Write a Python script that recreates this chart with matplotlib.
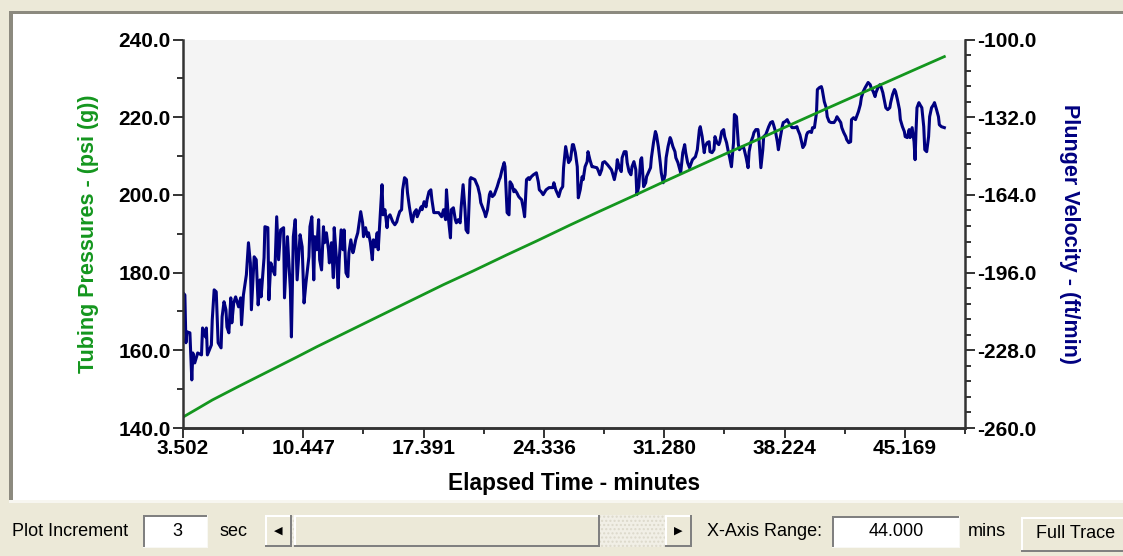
import matplotlib
matplotlib.use("Agg")
import matplotlib.pyplot as plt
from matplotlib.patches import Rectangle
from matplotlib.ticker import MultipleLocator, FormatStrFormatter
import numpy as np

plt.rcParams['font.family'] = ['Liberation Sans', 'DejaVu Sans']

# --- data ---
x_tick_labels = ['3.502', '10.447', '17.391', '24.336', '31.280', '38.224', '45.169']
x_start = 3.502
x_range = 44.0

# tubing pressure (psi g), left axis
pressure_t = [3.50, 4.35, 5.19, 6.71, 8.40, 10.09, 11.22, 12.91, 14.60, 16.57,
              18.54, 20.24, 22.21, 23.90, 25.87, 27.56, 29.53, 31.22, 33.19, 34.88,
              36.86, 38.54, 40.24, 42.21, 43.90, 45.87, 47.45]
pressure_v = [142.8, 145.0, 147.2, 150.7, 154.5, 158.3, 160.9, 164.6, 168.3, 172.6,
              176.9, 180.4, 184.6, 188.1, 192.3, 195.8, 199.8, 203.3, 207.3, 210.7,
              214.6, 218.0, 221.4, 225.3, 228.6, 232.5, 235.6]

# plunger velocity (ft/min), right axis
velocity_t = [
    3.50, 3.61, 3.67, 3.73, 3.90, 4.01, 4.07, 4.18, 4.35, 4.57,
    4.63, 4.80, 4.85, 4.91, 5.14, 5.19, 5.30, 5.42, 5.53, 5.70,
    5.76, 5.87, 5.98, 6.04, 6.15, 6.26, 6.32, 6.43, 6.54, 6.71,
    6.83, 6.88, 6.99, 7.16, 7.28, 7.39, 7.45, 7.61, 7.73, 7.84,
    7.95, 8.01, 8.18, 8.23, 8.40, 8.46, 8.57, 8.69, 8.80, 8.91,
    9.02, 9.14, 9.31, 9.36, 9.53, 9.70, 9.76, 9.87, 9.98, 10.09,
    10.26, 10.38, 10.49, 10.60, 10.77, 10.83,
    10.94, 11.05, 11.11, 11.22, 11.33, 11.39, 11.50, 11.61, 11.67, 11.78,
    11.90, 11.95, 12.07, 12.18, 12.23, 12.35, 12.46, 12.52, 12.63, 12.74,
    12.80, 12.91, 13.02, 13.08, 13.19, 13.31, 13.36, 13.47, 13.59, 13.64,
    13.76, 13.87, 13.92, 14.04, 14.15, 14.21, 14.32, 14.43, 14.49, 14.60,
    14.71, 14.77, 14.88, 14.99, 15.05, 15.16, 15.28, 15.33, 15.45, 15.56,
    15.61, 15.73, 15.84, 15.90, 16.01, 16.12, 16.18, 16.29, 16.40, 16.46,
    16.57, 16.69, 16.74, 16.85, 16.97, 17.02, 17.14, 17.25, 17.30, 17.42,
    17.53, 17.59, 17.70, 17.81, 17.87, 17.98, 18.09, 18.15,
    18.26, 18.43, 18.54, 18.66, 18.71, 18.83, 18.94, 18.99, 19.11, 19.22,
    19.28, 19.39, 19.50, 19.56, 19.67, 19.78, 19.84, 19.95, 20.07, 20.12,
    20.35, 20.40, 20.52, 20.63, 20.69, 20.91, 20.97, 21.08, 21.19, 21.25,
    21.36, 21.47, 21.64, 21.76, 21.81, 21.92, 22.04, 22.09, 22.21, 22.32,
    22.38, 22.49, 22.60, 22.66, 22.77, 22.88, 22.94, 23.05, 23.16, 23.22,
    23.33, 23.45, 23.50, 23.61, 23.73, 23.90, 24.01, 24.07, 24.18, 24.29,
    24.46, 24.63, 24.85, 24.91, 25.02, 25.19, 25.30, 25.42, 25.47, 25.59,
    25.70, 25.76,
    25.87, 25.98, 26.04, 26.15, 26.26, 26.32, 26.43, 26.54, 26.60, 26.71,
    26.83, 26.88, 26.99, 27.11, 27.16, 27.39, 27.45, 27.56, 27.67, 27.73,
    27.84, 28.01, 28.23, 28.29, 28.40, 28.52, 28.57, 28.69, 28.80, 28.85,
    28.97, 29.08, 29.14, 29.25, 29.36, 29.42, 29.53, 29.64, 29.70, 29.81,
    29.92, 29.98, 30.09, 30.21, 30.26, 30.49, 30.54, 30.66, 30.77, 30.83,
    30.94, 31.05, 31.11, 31.22, 31.33, 31.39, 31.50, 31.62, 31.67, 31.78,
    31.90, 31.95, 32.07, 32.18, 32.23, 32.35, 32.46, 32.52, 32.63, 32.74,
    32.80,
    32.91, 33.02, 33.08, 33.19, 33.31, 33.36, 33.47, 33.59, 33.64, 33.76,
    33.87, 33.92, 34.04, 34.15, 34.21, 34.32, 34.43, 34.49, 34.60, 34.71,
    34.77, 34.88, 34.99, 35.05, 35.16, 35.28, 35.33, 35.45, 35.56, 35.62,
    35.73, 35.84, 35.90, 36.01, 36.12, 36.18, 36.29, 36.40, 36.46, 36.57,
    36.69, 36.74, 36.86, 36.97, 37.02, 37.14, 37.25, 37.31, 37.42, 37.53,
    37.59, 37.70, 37.81, 37.87, 37.98, 38.09, 38.15, 38.26, 38.38, 38.43,
    38.54, 38.66, 38.83, 38.94, 38.99, 39.11, 39.22, 39.28, 39.39, 39.50,
    39.56, 39.67, 39.78, 39.84, 39.95, 40.07, 40.12,
    40.24, 40.35, 40.40, 40.52, 40.63, 40.69, 40.80, 40.91, 41.08, 41.19,
    41.25, 41.36, 41.47, 41.53, 41.64, 41.76, 41.81, 41.93, 42.04, 42.09,
    42.21, 42.32, 42.38, 42.49, 42.60, 42.66, 42.77, 42.88, 43.05, 43.17,
    43.22, 43.34, 43.45, 43.50, 43.62, 43.73, 43.79, 43.90, 44.01, 44.07,
    44.18, 44.30, 44.35, 44.46, 44.57, 44.63, 44.74, 44.86, 44.91, 45.03,
    45.14, 45.19, 45.31, 45.42, 45.47, 45.59, 45.70, 45.76, 45.81, 45.87,
    45.98, 46.04, 46.15, 46.26, 46.32, 46.43, 46.54, 46.60, 46.71, 46.83,
    46.88, 47.00, 47.11, 47.16, 47.28, 47.45,
]
velocity_v = [
    -204.3, -205.2, -224.9, -220.4, -220.8, -240.2, -229.1, -233.2, -229.1, -229.9,
    -218.8, -222.5, -218.8, -229.9, -225.8, -215.5, -203.1, -203.9, -224.9, -227.0,
    -214.2, -208.0, -211.3, -218.4, -220.8, -206.4, -216.7, -208.5, -206.0, -210.1,
    -206.4, -217.5, -205.2, -196.9, -183.7, -192.0, -211.3, -189.5, -190.7, -209.3,
    -199.0, -206.0, -189.9, -177.1, -177.5, -207.2, -192.0, -194.9, -196.9, -173.0,
    -190.7, -178.4, -177.5, -206.4, -181.2, -203.1, -222.5, -181.2, -174.2, -199.0,
    -180.4, -185.4, -208.5, -200.2, -189.5, -177.1,
    -173.0, -199.0, -181.2, -186.6, -174.2, -190.7, -194.9, -177.1, -183.7, -179.6,
    -186.6, -192.0, -183.7, -198.1, -177.5, -189.5, -202.3, -190.7, -178.4, -186.6,
    -178.4, -196.1, -197.7, -187.8, -182.5, -187.8, -186.6, -182.5, -179.6, -177.1,
    -170.9, -175.5, -181.2, -177.5, -181.2, -179.6, -183.7, -190.7, -182.5, -185.4,
    -179.6, -186.6, -173.0, -159.8, -172.2, -170.1, -177.5, -173.4, -172.2, -174.2,
    -175.1, -176.3, -175.1, -173.4, -170.9, -170.1, -161.9, -156.9, -157.7, -163.1,
    -168.9, -174.2, -175.1, -171.3, -170.1, -173.0, -170.9, -168.9, -170.1, -166.8,
    -168.9, -166.0, -162.7, -161.9, -166.0, -171.3, -171.3, -171.3,
    -171.3, -173.0, -170.1, -174.2, -161.9, -174.2, -181.7, -170.1, -169.3, -174.2,
    -175.5, -174.2, -175.5, -168.9, -159.8, -170.1, -178.4, -179.6, -157.7, -156.9,
    -157.7, -158.6, -160.6, -163.9, -167.2, -171.3, -173.0, -170.1, -163.9, -162.7,
    -164.7, -163.9, -160.6, -157.7, -156.9, -153.6, -150.7, -152.4, -171.3, -172.2,
    -158.6, -159.8, -162.7, -161.9, -163.1, -164.7, -165.2, -166.0, -170.1, -173.0,
    -157.7, -156.9, -157.7, -156.5, -155.7, -154.9, -158.6, -161.9, -162.7, -163.9,
    -161.9, -161.0, -161.0, -159.0, -161.9, -164.7, -161.9, -160.6, -152.8, -144.1,
    -148.3, -150.7,
    -149.5, -143.3, -143.3, -146.6, -152.4, -165.2, -161.9, -156.5, -157.7, -152.4,
    -150.3, -146.2, -149.5, -152.4, -152.4, -152.8, -153.6, -155.7, -153.6, -150.7,
    -150.3, -151.6, -153.6, -154.9, -157.7, -153.6, -149.5, -152.8, -154.4, -148.7,
    -146.2, -146.2, -150.7, -154.4, -155.7, -152.4, -150.3, -153.6, -163.9, -160.6,
    -149.5, -148.7, -160.6, -159.0, -156.5, -152.8, -148.7, -142.5, -137.9, -139.2,
    -144.1, -150.7, -154.9, -159.0, -155.7, -148.7, -144.1, -140.4, -141.2, -144.1,
    -146.2, -148.7, -150.7, -153.6, -154.9, -146.6, -143.3, -146.6, -150.7, -152.8,
    -151.6,
    -149.5, -148.7, -148.3, -145.4, -137.1, -135.9, -140.0, -146.6, -144.1, -142.5,
    -142.1, -146.2, -146.6, -145.4, -140.0, -142.5, -143.3, -142.1, -137.9, -137.1,
    -140.0, -142.5, -146.6, -148.3, -152.4, -142.5, -130.9, -131.8, -143.3, -145.4,
    -144.5, -144.1, -145.4, -148.7, -152.8, -146.2, -142.1, -140.0, -138.3, -137.1,
    -137.1, -140.0, -152.8, -145.4, -140.0, -139.2, -137.1, -135.9, -134.2, -133.8,
    -135.1, -137.9, -142.1, -145.4, -140.4, -135.9, -134.2, -133.8, -133.0, -133.8,
    -135.1, -136.3, -136.3, -135.9, -137.1, -139.2, -142.5, -144.5, -143.3, -139.2,
    -138.3, -137.9, -138.3, -136.3, -136.3, -130.1, -120.6,
    -119.8, -119.4, -120.6, -125.6, -128.1, -131.8, -133.8, -134.2, -134.2, -133.0,
    -131.8, -133.0, -134.2, -136.3, -138.3, -140.0, -141.2, -142.5, -142.1, -133.0,
    -132.2, -133.0, -131.8, -129.7, -126.8, -123.9, -121.4, -119.8, -117.7, -118.6,
    -119.8, -121.4, -123.5, -121.9, -119.8, -118.6, -119.4, -121.9, -126.0, -128.1,
    -128.9, -128.1, -126.0, -122.7, -120.6, -121.4, -124.7, -128.9, -133.0, -135.9,
    -137.9, -140.0, -140.4, -137.1, -140.4, -136.3, -142.1, -149.5, -138.4, -128.1,
    -126.0, -126.8, -128.1, -135.9, -145.4, -146.2, -140.0, -131.8, -128.1, -126.8,
    -126.0, -128.9, -131.8, -135.1, -135.9, -136.3,
]

# --- figure geometry (pixels of the 1123 x 556 screenshot) ---
W, H = 1123, 556
BEIGE = '#ece9d8'
AX_COL = '#333333'
GREEN = '#14961e'
NAVY = '#000080'

fig = plt.figure(figsize=(W / 100, H / 100), dpi=100, facecolor=BEIGE)


def px_rect(x0, y0, x1, y1, **kw):
    """Rectangle in screen pixels (origin top-left)."""
    r = Rectangle((x0 / W, 1 - y1 / H), (x1 - x0) / W, (y1 - y0) / H,
                  transform=fig.transFigure, **kw)
    fig.add_artist(r)
    return r


def px_text(x, y, s, **kw):
    return fig.text(x / W, 1 - y / H, s, **kw)


def sunken(x0, y0, x1, y1, face='white'):
    px_rect(x0, y0, x1, y1, facecolor=face, edgecolor='none', zorder=1)
    px_rect(x0, y0, x1, y0 + 1.5, facecolor='#808080', edgecolor='none', zorder=2)
    px_rect(x0, y0, x0 + 1.5, y1, facecolor='#808080', edgecolor='none', zorder=2)
    px_rect(x0, y1 - 1.5, x1, y1, facecolor='#f8f8f4', edgecolor='none', zorder=2)
    px_rect(x1 - 1.5, y0, x1, y1, facecolor='#f8f8f4', edgecolor='none', zorder=2)


def raised(x0, y0, x1, y1, face=BEIGE):
    px_rect(x0, y0, x1, y1, facecolor=face, edgecolor='none', zorder=1)
    px_rect(x0, y0, x1, y0 + 1.5, facecolor='white', edgecolor='none', zorder=2)
    px_rect(x0, y0, x0 + 1.5, y1, facecolor='white', edgecolor='none', zorder=2)
    px_rect(x0, y1 - 2, x1, y1, facecolor='#808080', edgecolor='none', zorder=2)
    px_rect(x1 - 2, y0, x1, y1, facecolor='#808080', edgecolor='none', zorder=2)


# chart panel with its sunken frame
px_rect(9, 11, W, 503, facecolor='white', edgecolor='none', zorder=0)
px_rect(9, 11, W, 14, facecolor='#8c8a7f', edgecolor='none', zorder=1)
px_rect(9, 11, 13, 500, facecolor='#8c8a7f', edgecolor='none', zorder=1)
px_rect(9, 500, W, 503, facecolor='#f7f6f0', edgecolor='none', zorder=1)

# --- plot axes ---
left, right, top, bottom = 183, 965, 39.5, 428
rect = [left / W, 1 - bottom / H, (right - left) / W, (bottom - top) / H]
ax2 = fig.add_axes(rect, zorder=1)
ax = fig.add_axes(rect, zorder=2, sharex=ax2)
ax2.set_facecolor('#f4f4f4')
ax.patch.set_visible(False)

ax2.plot(velocity_t, velocity_v, color=NAVY, lw=2.2)
ax.plot(pressure_t, pressure_v, color=GREEN, lw=2.0)

ax.set_xlim(x_start, x_start + x_range)
ax.set_ylim(140, 240)
ax2.set_ylim(-260, -100)

x_ticks = [float(s) for s in x_tick_labels]
ax.set_xticks(x_ticks)
ax.set_xticklabels(x_tick_labels)
ax.set_xticks([t + (x_ticks[1] - x_ticks[0]) / 2 for t in x_ticks], minor=True)

ax.yaxis.set_major_locator(MultipleLocator(20))
ax.yaxis.set_minor_locator(MultipleLocator(10))
ax.yaxis.set_major_formatter(FormatStrFormatter('%.1f'))
ax2.set_yticks(np.arange(-260, -99, 32))
ax2.set_yticks(np.arange(-260, -99, 6.4), minor=True)
ax2.yaxis.set_major_formatter(FormatStrFormatter('%.1f'))

for a in (ax, ax2):
    a.spines['top'].set_visible(False)
    for side in ('left', 'right', 'bottom'):
        a.spines[side].set_color(AX_COL)
        a.spines[side].set_linewidth(1.8)
    a.tick_params(which='major', length=7, width=1.4, color=AX_COL, pad=2,
                  labelsize=15)
    a.tick_params(which='minor', length=4, width=1.4, color=AX_COL)

ax.yaxis.tick_left()
ax.spines['right'].set_visible(False)
ax2.yaxis.tick_right()
ax2.yaxis.set_label_position('right')
ax2.spines['left'].set_visible(False)
ax2.tick_params(axis='x', which='both', bottom=False, labelbottom=False)
ax.tick_params(axis='x', pad=1)
for lbl in ax.get_xticklabels() + ax.get_yticklabels() + ax2.get_yticklabels():
    lbl.set_fontweight('bold')

ax.set_xlabel('Elapsed Time - minutes', fontsize=16.3, fontweight='bold',
              labelpad=10)
ax.set_ylabel('Tubing Pressures - (psi (g))', fontsize=15.5, fontweight='bold',
              color=GREEN, labelpad=14)
ax2.set_ylabel('Plunger Velocity - (ft/min)', fontsize=15.5, fontweight='bold',
               color=NAVY, rotation=270, va='bottom', labelpad=16)

# --- bottom control bar ---
ctrl = dict(fontsize=13, va='center', color='black')
px_text(12, 532, 'Plot Increment', ha='left', **ctrl)
sunken(143, 515, 208, 548)
px_text(177, 532, '3', ha='center', **ctrl)
px_text(219, 532, 'sec', ha='left', **ctrl)

# scroll bar
px_rect(265, 515, 692, 547, facecolor='#f1efe6', edgecolor='#dcd9cb', zorder=1,
        hatch='....', linewidth=0)
raised(265, 515, 292, 547)
px_text(278.5, 531, '\u25c0', ha='center', fontsize=8, va='center',
        family=['DejaVu Sans'])
raised(294, 515, 600, 547)
raised(665, 515, 692, 547)
px_text(678.5, 531, '\u25b6', ha='center', fontsize=8, va='center',
        family=['DejaVu Sans'])

px_text(707, 532, 'X-Axis Range:', ha='left', **ctrl)
sunken(832, 516, 960, 548)
px_text(896, 532, '44.000', ha='center', **ctrl)
px_text(968, 532, 'mins', ha='left', **ctrl)
raised(1021, 517, 1130, 552)
px_text(1036, 533, 'Full Trace', ha='left', **ctrl)

fig.savefig('out.png', dpi=100, facecolor=BEIGE)
